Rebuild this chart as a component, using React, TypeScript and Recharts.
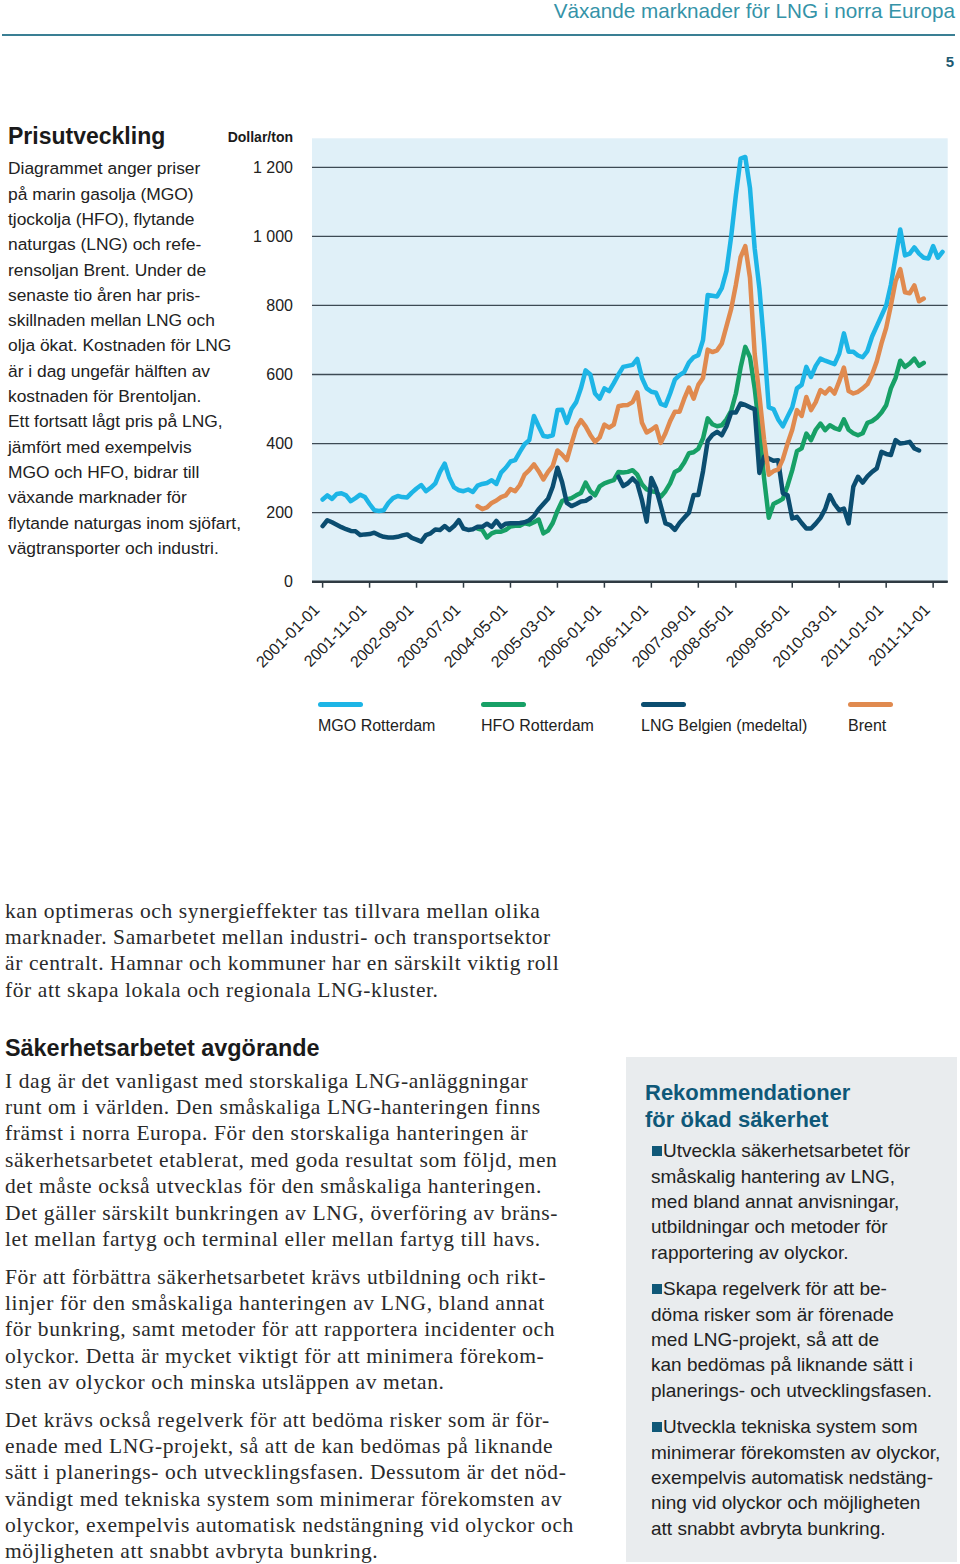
import React from "react";
import { LineChart, Line, XAxis, YAxis, CartesianGrid, Legend } from "recharts";

// x axis tick labels (every 10 months) and y ticks
const tickLabels = [
  "2001-01-01", "2001-11-01", "2002-09-01", "2003-07-01", "2004-05-01",
  "2005-03-01", "2006-01-01", "2006-11-01", "2007-09-01", "2008-05-01",
  "2009-05-01", "2010-03-01", "2011-01-01", "2011-11-01",
];
const yTicks = [0, 200, 400, 600, 800, 1000, 1200];
const yTickLabels = ["0", "200", "400", "600", "800", "1 000", "1 200"];

// monthly values, Dollar/ton, first month 2001-01
const mgo = [
  238, 250, 240, 254, 256, 250, 233, 242, 252, 245,
  225, 207, 205, 207, 228, 242, 248, 245, 244, 258,
  270, 280, 262, 272, 285, 318, 342, 300, 273, 265,
  262, 267, 260, 278, 283, 286, 294, 283, 316, 330,
  348, 352, 376, 398, 410, 480, 450, 422, 420, 424,
  497, 498, 460, 500, 520, 560, 612, 600, 545, 530,
  560, 552, 575, 600, 622, 625, 628, 645, 590, 560,
  550, 547, 515, 510, 545, 585, 598, 607, 635, 650,
  656, 700, 830, 828, 826, 850, 900, 1000, 1120, 1225,
  1230, 1140, 965, 850, 690, 505, 500, 470, 450, 478,
  505, 560, 570, 622, 593, 625, 646, 640, 635, 630,
  660, 719, 666, 666, 655, 650, 668, 710, 740, 770,
  800, 860, 940, 1020, 945, 950, 968, 950, 938, 936,
  972, 938, 955,
];

// HFO Rotterdam, first month 2003-10
const hfoStart = 33;
const hfo = [
  154, 150, 128, 140, 145, 145, 150, 160, 162, 162,
  169, 166, 172, 180, 140, 148, 170, 205, 234, 238,
  242, 250, 257, 287, 262, 250, 276, 285, 290, 294,
  318, 316, 318, 323, 310, 282, 267, 262, 260, 246,
  262, 285, 318, 325, 345, 372, 375, 385, 415, 473,
  456, 450, 453, 470, 495, 545, 620, 680, 650, 560,
  440, 300, 185, 225, 232, 240, 278, 323, 378, 386,
  429, 410, 440, 458, 439, 453, 445, 440, 470, 440,
  430, 424, 430, 460, 465, 475, 490, 511, 560, 590,
  640, 622, 632, 646, 625, 634,
];

// LNG Belgien, first month 2001-01 (gap without data)
const lng = [
  161, 178, 172, 165, 158, 152, 147, 146, 135, 137,
  138, 142, 135, 130, 128, 128, 130, 134, 137, 127,
  122, 116, 135, 140, 151, 150, 161, 150, 161, 178,
  154, 150, 152, 159, 159, 168, 159, 176, 159, 168,
  169, 169, 170, 172, 178, 190, 210, 225, 240, 275,
  330, 288, 228, 219, 225, 232, 234, 243, null, null,
  null, null, null, 304, 277, 285, 299, 285, 236, 174,
  300, 270, 220, 169, 164, 150, 170, 185, 200, 251,
  251, 320, 408, 425, 434, 424, 450, 490, 490, 516,
  512, 505, 500, 315, 362, 357, 350, 352, 256, 251,
  183, 188, 170, 154, 154, 168, 185, 210, 251, 225,
  207, 212, 169, 275, 304, 287, 305, 318, 328, 376,
  370, 367, 410, 400, 402, 405, 386, 380,
];

// Brent, first month 2003-10
const brentStart = 33;
const brent = [
  219, 210, 215, 228, 235, 245, 250, 268, 262, 280,
  310, 323, 340, 320, 296, 318, 335, 380, 368, 352,
  400, 445, 468, 450, 425, 405, 418, 455, 446, 455,
  508, 511, 512, 520, 548, 460, 432, 440, 450, 402,
  430, 465, 492, 492, 530, 562, 530, 570, 590, 672,
  665, 670, 690, 740, 790, 860, 940, 972, 880, 660,
  540, 412, 310, 320, 325, 355, 400, 440, 497, 480,
  535, 497, 520, 555, 545, 560, 545, 580, 620, 552,
  545, 550, 560, 572, 600, 638, 690, 735, 800, 870,
  905, 838, 835, 858, 812, 820,
];

const series = [
  { key: "mgo", name: "MGO Rotterdam", color: "#1db5e6" },
  { key: "hfo", name: "HFO Rotterdam", color: "#17a066" },
  { key: "lng", name: "LNG Belgien (medeltal)", color: "#0b4d70" },
  { key: "brent", name: "Brent", color: "#e08a4f" },
];

function monthIndex(label: string) {
  const [y, m] = label.split("-").map(Number);
  return (y - 2001) * 12 + (m - 1);
}

const xTicks = tickLabels.map(monthIndex);

const pick = (arr: (number | null)[], start: number, i: number) =>
  i >= start && i - start < arr.length ? arr[i - start] : null;

const data = mgo.map((v, i) => ({
  m: i,
  mgo: v,
  hfo: pick(hfo, hfoStart, i),
  lng: pick(lng, 0, i),
  brent: pick(brent, brentStart, i),
}));

const SANS = "'Liberation Sans', Arial, sans-serif";
const SERIF = "'Liberation Serif', 'Times New Roman', serif";
const AXIS_Y = 581.7;

function DateTick(props: any) {
  const { x, payload } = props;
  const label = tickLabels[xTicks.indexOf(payload.value)];
  return (
    <g transform={`translate(${x - 2},${AXIS_Y + 29}) rotate(-45)`}>
      <text x={0} y={0} textAnchor="end" fill="#222" fontSize={16} fontFamily={SANS}>
        {label}
      </text>
    </g>
  );
}

const legendLeft = [318, 481, 641, 848];

function LegendContent(props: any) {
  const payload = props.payload || [];
  return (
    <div style={{ position: "relative", width: 960, height: 50 }}>
      {series.map((s, i) => {
        const p = payload.find((q: any) => q.value === s.name);
        return (
          <div key={s.key} style={{ position: "absolute", left: legendLeft[i], top: 0 }}>
            <div style={{ width: 45, height: 5, borderRadius: 3, background: p ? p.color : s.color, marginTop: 1.5 }} />
            <div style={{ marginTop: 10, fontSize: 16, lineHeight: "18px", fontFamily: SANS, color: "#222", whiteSpace: "nowrap" }}>
              {s.name}
            </div>
          </div>
        );
      })}
    </div>
  );
}

const leftText = [
  "Diagrammet anger priser",
  "på marin gasolja (MGO)",
  "tjockolja (HFO), flytande",
  "naturgas (LNG) och refe-",
  "rensoljan Brent. Under de",
  "senaste tio åren har pris-",
  "skillnaden mellan LNG och",
  "olja ökat. Kostnaden för LNG",
  "är i dag ungefär hälften av",
  "kostnaden för Brentoljan.",
  "Ett fortsatt lågt pris på LNG,",
  "jämfört med exempelvis",
  "MGO och HFO, bidrar till",
  "växande marknader för",
  "flytande naturgas inom sjöfart,",
  "vägtransporter och industri.",
];

const bodyTop = [
  "kan optimeras och synergieffekter tas tillvara mellan olika",
  "marknader. Samarbetet mellan industri- och transportsektor",
  "är centralt. Hamnar och kommuner har en särskilt viktig roll",
  "för att skapa lokala och regionala LNG-kluster.",
];

const para1 = [
  "I dag är det vanligast med storskaliga LNG-anläggningar",
  "runt om i världen. Den småskaliga LNG-hanteringen finns",
  "främst i norra Europa. För den storskaliga hanteringen är",
  "säkerhetsarbetet etablerat, med goda resultat som följd, men",
  "det måste också utvecklas för den småskaliga hanteringen.",
  "Det gäller särskilt bunkringen av LNG, överföring av bräns-",
  "let mellan fartyg och terminal eller mellan fartyg till havs.",
];

const para2 = [
  "För att förbättra säkerhetsarbetet krävs utbildning och rikt-",
  "linjer för den småskaliga hanteringen av LNG, bland annat",
  "för bunkring, samt metoder för att rapportera incidenter och",
  "olyckor. Detta är mycket viktigt för att minimera förekom-",
  "sten av olyckor och minska utsläppen av metan.",
];

const para3 = [
  "Det krävs också regelverk för att bedöma risker som är för-",
  "enade med LNG-projekt, så att de kan bedömas på liknande",
  "sätt i planerings- och utvecklingsfasen. Dessutom är det nöd-",
  "vändigt med tekniska system som minimerar förekomsten av",
  "olyckor, exempelvis automatisk nedstängning vid olyckor och",
  "möjligheten att snabbt avbryta bunkring.",
];

const boxItems = [
  ["Utveckla säkerhetsarbetet för", "småskalig hantering av LNG,", "med bland annat anvisningar,", "utbildningar och metoder för", "rapportering av olyckor."],
  ["Skapa regelverk för att be-", "döma risker som är förenade", "med LNG-projekt, så att de", "kan bedömas på liknande sätt i", "planerings- och utvecklingsfasen."],
  ["Utveckla tekniska system som", "minimerar förekomsten av olyckor,", "exempelvis automatisk nedstäng-", "ning vid olyckor och möjligheten", "att snabbt avbryta bunkring."],
];

function Lines({ lines, left, top, lh, style }: any) {
  return (
    <div style={{ position: "absolute", left, top, ...style }}>
      {lines.map((l: string, i: number) => (
        <div key={i} style={{ height: lh, lineHeight: `${lh}px`, whiteSpace: "nowrap" }}>{l}</div>
      ))}
    </div>
  );
}

const sansText = { fontFamily: SANS, fontSize: 17.4, color: "#222" };
const serifText = { fontFamily: SERIF, fontSize: 21.5, letterSpacing: 0.6, color: "#2a2a2a" };
const boxText = { fontFamily: SANS, fontSize: 19, color: "#222" };

export default function App() {
  return (
    <div style={{ position: "absolute", left: 0, top: 0, width: 960, height: 1564, background: "#fff", overflow: "hidden" }}>
      {/* page header */}
      <div style={{ position: "absolute", right: 5, top: 0, fontFamily: SANS, fontSize: 20.7, lineHeight: "22px", color: "#3593a8" }}>
        Växande marknader för LNG i norra Europa
      </div>
      <div style={{ position: "absolute", left: 2, top: 34, width: 953, height: 1.5, background: "#3a7f94" }} />
      <div style={{ position: "absolute", right: 6, top: 53, fontFamily: SANS, fontSize: 15, fontWeight: 700, lineHeight: "18px", color: "#1d5a72" }}>5</div>

      {/* chart side text */}
      <div style={{ position: "absolute", left: 8, top: 122, fontFamily: SANS, fontSize: 23, fontWeight: 700, lineHeight: "28px", color: "#1a1a1a" }}>
        Prisutveckling
      </div>
      <Lines lines={leftText} left={8} top={156.4} lh={25.3} style={sansText} />
      <div style={{ position: "absolute", right: 960 - 293, top: 128, fontFamily: SANS, fontSize: 14, fontWeight: 700, lineHeight: "18px", color: "#1a1a1a" }}>
        Dollar/ton
      </div>

      <div style={{ position: "absolute", left: 0, top: 0 }}>
        <LineChart width={960} height={760} data={data} margin={{ top: 138.3, right: 12.3, left: 232, bottom: 118.3 }}>
          <CartesianGrid
            vertical={false}
            horizontalValues={yTicks}
            fill="#e0f0f8"
            stroke="#3d4a54"
            strokeWidth={1.3}
          />
          <XAxis
            type="number"
            dataKey="m"
            domain={[-2.26, 133.1]}
            ticks={xTicks}
            interval={0}
            allowDataOverflow
            height={60}
            tickSize={6}
            tickMargin={0}
            axisLine={{ stroke: "#2f3a42", strokeWidth: 2.5 }}
            tickLine={{ stroke: "#2f3a42", strokeWidth: 1.5 }}
            tick={<DateTick />}
          />
          <YAxis
            type="number"
            domain={[0, 1284]}
            ticks={yTicks}
            interval={0}
            width={80}
            axisLine={false}
            tickLine={false}
            tickSize={0}
            tickMargin={19}
            tickFormatter={(v: number) => yTickLabels[yTicks.indexOf(v)]}
            tick={{ fill: "#222", fontSize: 16, fontFamily: SANS }}
          />
          {series.map((s) => (
            <Line
              key={s.key}
              type="linear"
              dataKey={s.key}
              name={s.name}
              stroke={s.color}
              strokeWidth={4.5}
              strokeLinecap="round"
              strokeLinejoin="round"
              dot={false}
              activeDot={false}
              isAnimationActive={false}
            />
          ))}
          <Legend
            layout="horizontal"
            verticalAlign="middle"
            align="center"
            content={<LegendContent />}
            wrapperStyle={{ position: "absolute", left: 0, top: 700, width: 960, height: 50 }}
          />
        </LineChart>
      </div>

      {/* body text */}
      <Lines lines={bodyTop} left={5} top={897.8} lh={26.35} style={serifText} />
      <div style={{ position: "absolute", left: 5, top: 1034, fontFamily: SANS, fontSize: 23.4, fontWeight: 700, lineHeight: "28px", color: "#1a1a1a" }}>
        Säkerhetsarbetet avgörande
      </div>
      <Lines lines={para1} left={5} top={1067.8} lh={26.35} style={serifText} />
      <Lines lines={para2} left={5} top={1263.8} lh={26.35} style={serifText} />
      <Lines lines={para3} left={5} top={1406.8} lh={26.25} style={serifText} />

      {/* recommendations box */}
      <div style={{ position: "absolute", left: 626, top: 1057, width: 331, height: 505, background: "#e9ecee" }} />
      <div style={{ position: "absolute", left: 645, top: 1078.5, fontFamily: SANS, fontSize: 22, fontWeight: 700, lineHeight: "27px", color: "#0f5878" }}>
        <div>Rekommendationer</div>
        <div>för ökad säkerhet</div>
      </div>
      {boxItems.map((item, k) => (
        <div key={k} style={{ position: "absolute", left: 651, top: 1138.4 + k * 138 }}>
          <div style={{ position: "absolute", left: 1, top: 8, width: 10, height: 10, background: "#0f5878" }} />
          <div style={{ ...boxText, whiteSpace: "nowrap" }}>
            {item.map((l, i) => (
              <div key={i} style={{ height: 25.3, lineHeight: "25.3px", paddingLeft: i === 0 ? 12 : 0 }}>{l}</div>
            ))}
          </div>
        </div>
      ))}
    </div>
  );
}
